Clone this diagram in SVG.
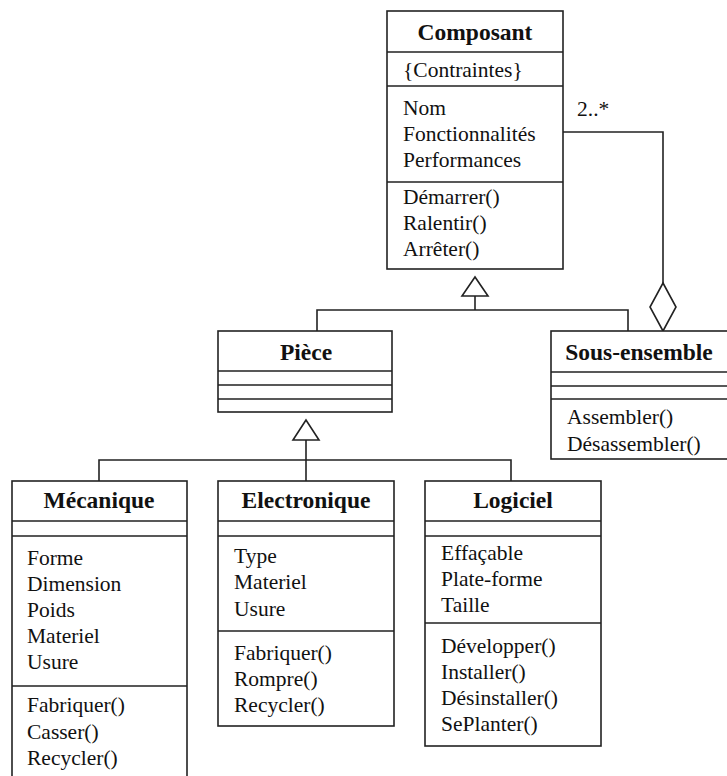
<svg xmlns="http://www.w3.org/2000/svg" width="727" height="776" viewBox="0 0 727 776">
<style>
.box{fill:#fff;stroke:#222;stroke-width:1.6}
.ln{stroke:#222;stroke-width:1.6;fill:none}
.title{font-family:"Liberation Serif",serif;font-weight:bold;font-size:23.5px;text-anchor:middle;fill:#111}
.t{font-family:"Liberation Serif",serif;font-size:21.5px;fill:#111}
.tri{fill:#fff;stroke:#222;stroke-width:1.6}
</style>
<rect width="727" height="776" fill="#fff"/>
<g id="connectors">
  <path class="ln" d="M475 296 V310 M317 331 V310 H628 V331"/>
  <polygon class="tri" points="475,277 462,296 488,296"/>
  <path class="ln" d="M563 132 H663 V283"/>
  <polygon class="tri" points="663,283 676,307 663,331 650,307"/>
  <text class="t" x="577" y="116">2..*</text>
  <path class="ln" d="M306 440 V481 M99 481 V460 H511 V481"/>
  <polygon class="tri" points="306,420 293,440 319,440"/>
</g>
<g id="composant">
  <rect class="box" x="387" y="11" width="176" height="258"/>
  <path class="ln" d="M387 52 H563 M387 86 H563 M387 182 H563"/>
  <text class="title" x="475" y="40">Composant</text>
  <text class="t" x="403" y="77">{Contraintes}</text>
  <text class="t" x="403" y="115">Nom</text>
  <text class="t" x="403" y="141">Fonctionnalités</text>
  <text class="t" x="403" y="167">Performances</text>
  <text class="t" x="403" y="204">Démarrer()</text>
  <text class="t" x="403" y="230">Ralentir()</text>
  <text class="t" x="403" y="256">Arrêter()</text>
</g>
<g id="piece">
  <rect class="box" x="218" y="331" width="174" height="81"/>
  <path class="ln" d="M218 371 H392 M218 385 H392 M218 399 H392"/>
  <text class="title" x="306" y="360">Pièce</text>
</g>
<g id="sous-ensemble">
  <rect class="box" x="551" y="331" width="190" height="128"/>
  <path class="ln" d="M551 372 H741 M551 386 H741 M551 399 H741"/>
  <text class="title" x="639" y="360">Sous-ensemble</text>
  <text class="t" x="567" y="424">Assembler()</text>
  <text class="t" x="567" y="451">Désassembler()</text>
</g>
<g id="mecanique">
  <rect class="box" x="12" y="481" width="175" height="320"/>
  <path class="ln" d="M12 521 H187 M12 536 H187 M12 686 H187"/>
  <text class="title" x="99" y="508">Mécanique</text>
  <text class="t" x="27" y="565">Forme</text>
  <text class="t" x="27" y="591">Dimension</text>
  <text class="t" x="27" y="617">Poids</text>
  <text class="t" x="27" y="643">Materiel</text>
  <text class="t" x="27" y="669">Usure</text>
  <text class="t" x="27" y="712">Fabriquer()</text>
  <text class="t" x="27" y="739">Casser()</text>
  <text class="t" x="27" y="765">Recycler()</text>
</g>
<g id="electronique">
  <rect class="box" x="218" y="481" width="176" height="245"/>
  <path class="ln" d="M218 521 H394 M218 536 H394 M218 631 H394"/>
  <text class="title" x="306" y="508">Electronique</text>
  <text class="t" x="234" y="563">Type</text>
  <text class="t" x="234" y="589">Materiel</text>
  <text class="t" x="234" y="616">Usure</text>
  <text class="t" x="234" y="660">Fabriquer()</text>
  <text class="t" x="234" y="686">Rompre()</text>
  <text class="t" x="234" y="712">Recycler()</text>
</g>
<g id="logiciel">
  <rect class="box" x="425" y="481" width="176" height="265"/>
  <path class="ln" d="M425 521 H601 M425 536 H601 M425 623 H601"/>
  <text class="title" x="513" y="508">Logiciel</text>
  <text class="t" x="441" y="560">Effaçable</text>
  <text class="t" x="441" y="586">Plate-forme</text>
  <text class="t" x="441" y="612">Taille</text>
  <text class="t" x="441" y="653">Développer()</text>
  <text class="t" x="441" y="679">Installer()</text>
  <text class="t" x="441" y="705">Désinstaller()</text>
  <text class="t" x="441" y="731">SePlanter()</text>
</g>
</svg>
